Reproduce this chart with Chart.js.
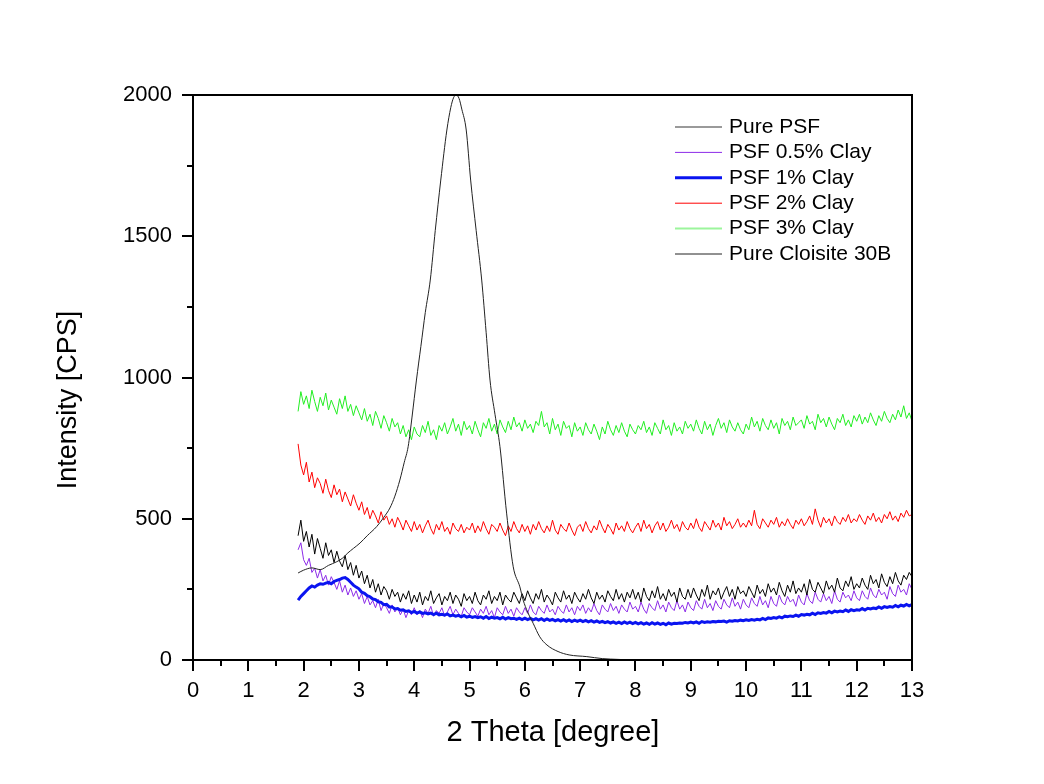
<!DOCTYPE html>
<html>
<head>
<meta charset="utf-8">
<script src="https://cdn.jsdelivr.net/npm/chart.js@4.4.1/dist/chart.umd.min.js"></script>
<style>
  html, body { margin: 0; padding: 0; background: #fff; }
  canvas { display: block; }
</style>
</head>
<body>
<canvas id="xrd" width="1044" height="784"></canvas>
<script>
// sampling grid of the measured scans: 1.9 .. 13.0 deg, every 0.05 deg
const thetaStart = 1.9;
const thetaStep = 0.05;

// values per degree row (first row = 1.90, 1.95; last value = 13.0)
const purePSF = [
  440, 495,
  420, 455, 400, 445, 375, 430, 395, 360, 415, 370, 390, 345, 385, 350, 330, 370, 320, 345, 300, 335,
  290, 315, 270, 300, 255, 285, 240, 270, 230, 260, 245, 215, 250, 225, 240, 205, 235, 215, 245, 200,
  230, 205, 240, 195, 225, 210, 245, 200, 220, 235, 195, 225, 210, 240, 200, 230, 215, 190, 235, 210,
  225, 200, 240, 210, 195, 230, 215, 245, 200, 225, 210, 240, 195, 230, 215, 205, 240, 220, 200, 235,
  210, 245, 220, 200, 235, 215, 250, 205, 230, 215, 195, 240, 220, 205, 245, 215, 230, 200, 240, 220,
  205, 235, 215, 250, 220, 200, 240, 215, 230, 205, 245, 225, 210, 250, 215, 235, 205, 240, 220, 250,
  215, 240, 205, 255, 225, 210, 245, 220, 260, 215, 235, 210, 250, 225, 240, 205, 255, 225, 215, 250,
  220, 255, 230, 210, 250, 225, 265, 215, 245, 230, 255, 215, 240, 260, 225, 250, 215, 260, 235, 245,
  225, 260, 240, 220, 265, 235, 250, 225, 270, 240, 255, 230, 275, 245, 225, 265, 240, 280, 235, 255,
  240, 270, 230, 285, 250, 240, 275, 255, 235, 280, 250, 265, 240, 290, 255, 245, 280, 260, 295, 250,
  270, 255, 290, 265, 250, 300, 270, 285, 255, 305, 275, 260, 295, 270, 310, 280, 265, 300, 285, 310,
  295
];

const psfClay05 = [
  390, 415,
  355, 335, 360, 310, 325, 290, 320, 280, 300, 265, 295, 275, 250, 280, 240, 265, 230, 255, 225, 245,
  215, 235, 200, 225, 195, 210, 185, 215, 175, 200, 185, 165, 195, 170, 185, 160, 180, 150, 175, 160,
  185, 160, 175, 150, 180, 165, 190, 155, 175, 165, 185, 155, 170, 190, 160, 180, 165, 155, 185, 170,
  160, 185, 170, 155, 180, 165, 190, 160, 175, 150, 185, 170, 160, 190, 165, 180, 155, 185, 170, 160,
  185, 165, 195, 170, 160, 190, 175, 165, 195, 170, 180, 160, 190, 175, 165, 195, 170, 185, 160, 190,
  175, 195, 165, 185, 170, 200, 175, 160, 195, 180, 170, 200, 175, 190, 165, 195, 180, 170, 205, 180,
  190, 170, 205, 180, 165, 200, 185, 175, 210, 180, 195, 170, 205, 185, 175, 210, 180, 195, 170, 205,
  185, 175, 210, 190, 180, 215, 185, 200, 175, 210, 190, 180, 215, 195, 185, 220, 190, 205, 180, 215,
  195, 185, 220, 200, 190, 225, 195, 210, 185, 225, 200, 190, 230, 205, 195, 225, 205, 215, 190, 230,
  205, 195, 235, 210, 200, 240, 215, 205, 235, 210, 225, 200, 245, 215, 205, 240, 220, 230, 210, 245,
  220, 210, 245, 225, 215, 255, 230, 220, 250, 230, 240, 215, 260, 235, 225, 265, 240, 250, 230, 270,
  250
];

const psfClay1 = [
  212, 225,
  235, 245, 255, 262, 258, 265, 270, 268, 272, 275, 270, 278, 282, 285, 290, 292, 285, 275, 265, 258,
  252, 240, 236, 228, 224, 216, 214, 206, 204, 196, 197, 188, 188, 181, 182, 176, 178, 172, 174, 168,
  172, 166, 170, 165, 167, 163, 166, 161, 166, 160, 162, 159, 163, 156, 159, 155, 158, 153, 158, 152,
  155, 151, 154, 150, 153, 148, 154, 147, 152, 148, 150, 146, 151, 145, 150, 146, 148, 144, 148, 143,
  148, 143, 147, 142, 146, 141, 146, 140, 145, 140, 144, 139, 143, 138, 143, 137, 142, 136, 141, 137,
  141, 136, 140, 135, 139, 134, 138, 133, 137, 132, 136, 131, 135, 130, 134, 129, 135, 130, 134, 129,
  133, 128, 132, 127, 131, 126, 132, 127, 131, 126, 130, 125, 131, 127, 130, 129, 131, 130, 133, 131,
  134, 131, 135, 130, 136, 133, 135, 134, 136, 135, 137, 136, 138, 134, 139, 137, 140, 138, 141, 139,
  142, 140, 143, 141, 144, 142, 147, 143, 149, 147, 150, 148, 153, 149, 155, 153, 156, 154, 159, 155,
  161, 159, 162, 160, 166, 161, 167, 165, 168, 166, 172, 167, 173, 170, 173, 171, 177, 172, 178, 175,
  178, 176, 182, 177, 183, 181, 184, 182, 188, 183, 189, 186, 189, 187, 193, 188, 194, 191, 197, 192,
  196
];

const psfClay2 = [
  765, 690,
  655, 700, 630, 665, 610, 645, 625, 590, 640, 600, 575, 620, 585, 605, 560, 595, 570, 545, 585, 555,
  530, 560, 515, 540, 500, 530, 510, 485, 525, 495, 510, 480, 500, 470, 505, 485, 460, 495, 475, 455,
  490, 460, 480, 450, 475, 495, 465, 445, 480, 460, 490, 455, 470, 445, 485, 465, 455, 480, 450, 470,
  460, 485, 450, 475, 455, 490, 465, 445, 480, 470, 455, 485, 460, 440, 475, 455, 490, 465, 450, 480,
  455, 475, 445, 480, 460, 490, 465, 450, 475, 455, 495, 460, 445, 480, 465, 455, 485, 460, 440, 470,
  480, 455, 490, 465, 450, 475, 460, 495, 470, 450, 480, 465, 445, 485, 460, 475, 455, 490, 465, 450,
  470, 485, 455, 495, 465, 480, 450, 475, 490, 460, 485, 455, 470, 495, 465, 480, 455, 490, 470, 460,
  485, 465, 500, 470, 455, 490, 475, 460, 495, 470, 485, 460, 505, 475, 490, 465, 480, 500, 470, 485,
  470, 495, 475, 530, 480, 465, 500, 485, 470, 495, 480, 505, 470, 490, 475, 500, 480, 465, 495, 480,
  500, 475, 490, 510, 480, 535, 495, 470, 505, 485, 500, 475, 510, 490, 480, 505, 490, 515, 485, 500,
  490, 515, 495, 480, 510, 495, 520, 490, 505, 485, 515, 500, 525, 495, 510, 490, 520, 505, 530, 510,
  515
];

const psfClay3 = [
  880, 950,
  905, 935, 890, 955, 915, 880, 930, 900, 945, 885, 920, 895, 870, 925, 890, 935, 880, 905, 865, 900,
  875, 850, 890, 845, 870, 830, 880, 855, 820, 865, 840, 810, 855, 825, 840, 800, 830, 790, 815, 780,
  825, 800, 790, 830, 805, 845, 795, 815, 780, 830, 810, 840, 800, 825, 855, 810, 835, 795, 845, 815,
  830, 800, 845, 815, 790, 840, 820, 855, 810, 835, 800, 850, 825, 805, 845, 815, 860, 825, 840, 810,
  850, 820, 835, 805, 845, 830, 880, 825, 840, 800, 855, 815, 835, 795, 845, 820, 830, 790, 840, 810,
  825, 795, 840, 815, 800, 835, 810, 780, 825, 800, 845, 815, 795, 830, 805, 840, 810, 790, 835, 815,
  800, 830, 815, 845, 805, 825, 795, 840, 820, 800, 850, 815, 830, 795, 840, 810, 825, 800, 845, 820,
  835, 810, 850, 820, 800, 845, 815, 835, 795, 830, 855, 820, 840, 805, 850, 825, 810, 840, 815, 800,
  835, 815, 860, 825, 845, 810, 855, 830, 815, 850, 820, 840, 800, 855, 830, 845, 815, 860, 830, 840,
  850, 820, 865, 835, 845, 815, 870, 840, 855, 825, 860, 835, 815, 855, 840, 870, 830, 850, 825, 865,
  845, 870, 835, 860, 840, 875, 850, 830, 865, 845, 880, 855, 840, 870, 850, 885, 860, 900, 855, 875,
  845
];

// Cloisite 30B scan, read at irregular angles
const cloisiteTheta = [1.9, 2.0, 2.15, 2.3, 2.45, 2.6, 2.7, 2.8, 2.9, 3.02, 3.15, 3.32, 3.45, 3.56, 3.65,
  3.74, 3.82, 3.89, 3.96, 4.04, 4.12, 4.2, 4.29, 4.38, 4.48, 4.59, 4.66, 4.71, 4.76, 4.81, 4.86, 4.94,
  5.02, 5.12, 5.22, 5.3, 5.37, 5.46, 5.55, 5.67, 5.79, 5.91, 5.97, 6.05, 6.15, 6.27, 6.4, 6.6, 6.8,
  7.12, 7.4, 7.7, 8.0, 9.0, 10.0, 11.0, 12.0, 13.0];
const cloisite = [308, 318, 326, 320, 335, 348, 360, 379, 395, 414, 440, 472, 505, 538, 580,
  637, 700, 755, 860, 991, 1110, 1230, 1345, 1520, 1699, 1876, 1955, 1990, 2000, 1988, 1950, 1876,
  1699, 1520, 1345, 1160, 991, 870, 755, 520, 330, 259, 212, 170, 130, 82, 53, 30, 18,
  12, 5, 2, 0, 0, 0, 0, 0, 0];

const seriesNames = ['Pure PSF', 'PSF 0.5% Clay', 'PSF 1% Clay', 'PSF 2% Clay', 'PSF 3% Clay', 'Pure Cloisite 30B'];
const xTicks = [0, 1, 2, 3, 4, 5, 6, 7, 8, 9, 10, 11, 12, 13];
const yTicks = [0, 500, 1000, 1500, 2000];

const FONT = "'Liberation Sans', Arial, sans-serif";

function onGrid(values) {
  return values.map((v, i) => ({ x: +(thetaStart + i * thetaStep).toFixed(2), y: v }));
}

const lines = [
  { label: seriesNames[0], data: onGrid(purePSF), color: '#000000', legendColor: '#9a9a9a', width: 1, legendWidth: 2, order: 2 },
  { label: seriesNames[1], data: onGrid(psfClay05), color: '#8c2be8', legendColor: '#8c2be8', width: 1, legendWidth: 1, order: 3 },
  { label: seriesNames[2], data: onGrid(psfClay1), color: '#0a14f0', legendColor: '#0a14f0', width: 3, legendWidth: 3, order: 1 },
  { label: seriesNames[3], data: onGrid(psfClay2), color: '#ff0000', legendColor: '#ff0000', width: 1, legendWidth: 1, order: 4 },
  { label: seriesNames[4], data: onGrid(psfClay3), color: '#22ee22', legendColor: '#9cf59c', width: 1, legendWidth: 2, order: 5 },
  { label: seriesNames[5], data: cloisiteTheta.map((t, i) => ({ x: t, y: cloisite[i] })), color: '#222222', legendColor: '#222222', width: 1, legendWidth: 1, order: 0, smooth: true }
];

// frame, outward ticks, legend and axis titles
const decorations = {
  id: 'decorations',
  afterDatasetsDraw(chart) {
    const { ctx, chartArea: a, scales: { x, y } } = chart;
    ctx.save();
    ctx.strokeStyle = '#000';
    ctx.lineWidth = 2;
    ctx.strokeRect(a.left, a.top, a.right - a.left, a.bottom - a.top);

    ctx.beginPath();
    for (let v = 0; v <= 13; v += 0.5) {
      const px = Math.round(x.getPixelForValue(v));
      ctx.moveTo(px, a.bottom);
      ctx.lineTo(px, a.bottom + (v % 1 === 0 ? 11 : 6));
    }
    for (let v = 0; v <= 2000; v += 250) {
      const py = Math.round(y.getPixelForValue(v));
      ctx.moveTo(a.left, py);
      ctx.lineTo(a.left - (v % 500 === 0 ? 11 : 6), py);
    }
    ctx.stroke();

    // legend
    ctx.font = '21px ' + FONT;
    ctx.fillStyle = '#000';
    ctx.textBaseline = 'middle';
    ctx.textAlign = 'left';
    lines.forEach((s, i) => {
      const ry = 127 + i * 25.4;
      ctx.strokeStyle = s.legendColor;
      ctx.lineWidth = s.legendWidth;
      ctx.beginPath();
      ctx.moveTo(675, ry);
      ctx.lineTo(722, ry);
      ctx.stroke();
      ctx.fillText(s.label, 729, ry);
    });

    // axis titles
    ctx.textAlign = 'center';
    ctx.textBaseline = 'alphabetic';
    ctx.font = '29px ' + FONT;
    ctx.fillText('2 Theta [degree]', 553, 741);
    ctx.font = '27px ' + FONT;
    ctx.translate(76, 400);
    ctx.rotate(-Math.PI / 2);
    ctx.fillText('Intensity [CPS]', 0, 0);
    ctx.restore();
  }
};

new Chart(document.getElementById('xrd'), {
  type: 'line',
  data: {
    datasets: lines.map(s => ({
      label: s.label,
      data: s.data,
      borderColor: s.color,
      borderWidth: s.width,
      pointRadius: 0,
      tension: 0,
      cubicInterpolationMode: s.smooth ? 'monotone' : 'default',
      fill: false,
      order: s.order
    }))
  },
  options: {
    responsive: false,
    animation: false,
    events: [],
    layout: { padding: { left: 0, top: 95, right: 132, bottom: 0 } },
    plugins: { legend: { display: false }, tooltip: { enabled: false } },
    scales: {
      x: {
        type: 'linear',
        min: 0,
        max: 13,
        afterBuildTicks: s => { s.ticks = xTicks.map(v => ({ value: v })); },
        afterFit: s => { s.height = 124; },
        grid: { display: false, drawTicks: false },
        border: { display: false },
        ticks: { color: '#000', font: { family: FONT, size: 22 }, padding: 18, maxRotation: 0, callback: v => String(v) }
      },
      y: {
        min: 0,
        max: 2000,
        afterBuildTicks: s => { s.ticks = yTicks.map(v => ({ value: v })); },
        afterFit: s => { s.width = 193; },
        grid: { display: false, drawTicks: false },
        border: { display: false },
        ticks: { color: '#000', font: { family: FONT, size: 22 }, padding: 21, callback: v => String(v) }
      }
    }
  },
  plugins: [decorations]
});
</script>
</body>
</html>
